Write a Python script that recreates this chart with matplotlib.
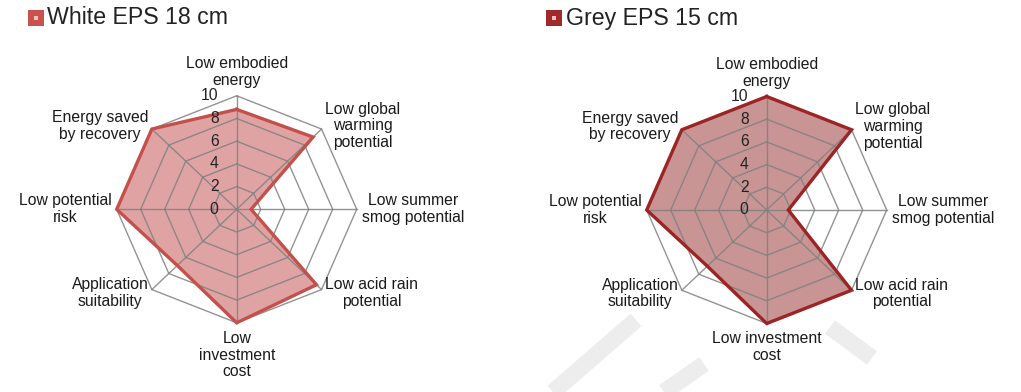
import matplotlib
matplotlib.use("Agg")
import matplotlib.pyplot as plt
from matplotlib.patches import Rectangle
import numpy as np

plt.rcParams['font.family'] = ['Liberation Sans', 'DejaVu Sans']

# Criteria (clockwise from the top) and scores for the two insulation options
categories = ['Low embodied\nenergy', 'Low global\nwarming\npotential', 'Low summer\nsmog potential',
              'Low acid rain\npotential', 'Low\ninvestment\ncost', 'Application\nsuitability',
              'Low potential\nrisk', 'Energy saved\nby recovery']
categories_grey = categories[:4] + ['Low investment\ncost'] + categories[5:]
white_eps = [8.8, 9.0, 1.2, 9.4, 10, 7, 10, 10]
grey_eps = [10, 10, 1.8, 10, 10, 7, 10, 10]
ticks = [0, 2, 4, 6, 8, 10]
titles = ['White EPS 18 cm', 'Grey EPS 15 cm']

W, H = 1021, 392
fig = plt.figure(figsize=(W / 100, H / 100), dpi=100)

n = len(categories)
ang = np.arange(n) * 2 * np.pi / n
sx, sy = np.sin(ang), np.cos(ang)
FS = 11.3


def radar(cx, cy, values, labels, fill, edge):
    # axes centred on (cx, cy) in pixels from the top-left, 12 px/unit across, 11.35 px/unit down
    half_w = 236.7
    half_h = H - cy
    ax = fig.add_axes([(cx - half_w) / W, 0, 2 * half_w / W, 2 * half_h / H])
    ax.set_xlim(-half_w / 12, half_w / 12)
    ax.set_ylim(-half_h / 11.35, half_h / 11.35)
    ax.axis('off')

    # octagon grid
    for t in ticks[1:]:
        ax.plot(np.append(sx, sx[0]) * t, np.append(sy, sy[0]) * t, color='#808080', lw=1.0, alpha=0.85, zorder=1)
    for i in range(n):
        ax.plot([0, sx[i] * 10], [0, sy[i] * 10], color='#808080', lw=1.0, alpha=0.85, zorder=1)

    v = np.array(values, dtype=float)
    px, py = np.append(sx * v, sx[0] * v[0]), np.append(sy * v, sy[0] * v[0])
    ax.fill(px, py, color=fill, lw=0, zorder=0.5)
    ax.plot(px, py, color=edge, lw=2.4, zorder=3, solid_joinstyle='miter')

    for t in ticks:
        ax.text(-1.5, t, str(t), ha='right', va='center', fontsize=FS, color='#222222', zorder=4)

    for i, lab in enumerate(labels):
        if abs(sx[i]) < 0.1:
            r = 10.7
            ax.text(sx[i] * r, sy[i] * r, lab, ha='center', va='bottom' if sy[i] > 0 else 'top',
                    multialignment='center', fontsize=FS, color='#1a1a1a', linespacing=1.15)
        else:
            r = 10.4
            ax.text(sx[i] * r, sy[i] * r, lab, ha='left' if sx[i] > 0 else 'right', va='center',
                    multialignment='center', fontsize=FS, color='#1a1a1a', linespacing=1.15)
    return ax


radar(236.7, 209.3, white_eps, categories, '#e0a3a3', '#c4504c')
radar(766.7, 210.0, grey_eps, categories_grey, '#c99494', '#9c2424')

# watermark strokes
for (x0, y0), (x1, y1) in [((553, 392), (636, 320)), ((664, 392), (704, 364)), ((830, 327), (872, 358))]:
    fig.add_artist(plt.Line2D([x0 / W, x1 / W], [1 - y0 / H, 1 - y1 / H], color='#ededed', lw=12,
                              solid_capstyle='butt', zorder=-5))

# legend-style titles
for (qx, tx), title, col in zip([(28, 46.5), (546, 566)], titles, ['#c9524f', '#a02a2a']):
    fig.add_artist(Rectangle((qx / 100, (H - 26) / 100), 0.16, 0.16, transform=fig.dpi_scale_trans,
                             facecolor=col, edgecolor='none'))
    fig.add_artist(Rectangle(((qx + 6) / 100, (H - 20) / 100), 0.04, 0.04, transform=fig.dpi_scale_trans,
                             facecolor='#f0c0c0', edgecolor='none'))
    fig.text(tx / W, 1 - 18 / H, title, fontsize=16.7, color='#222222', ha='left', va='center')

fig.savefig('out.png', dpi=100)
